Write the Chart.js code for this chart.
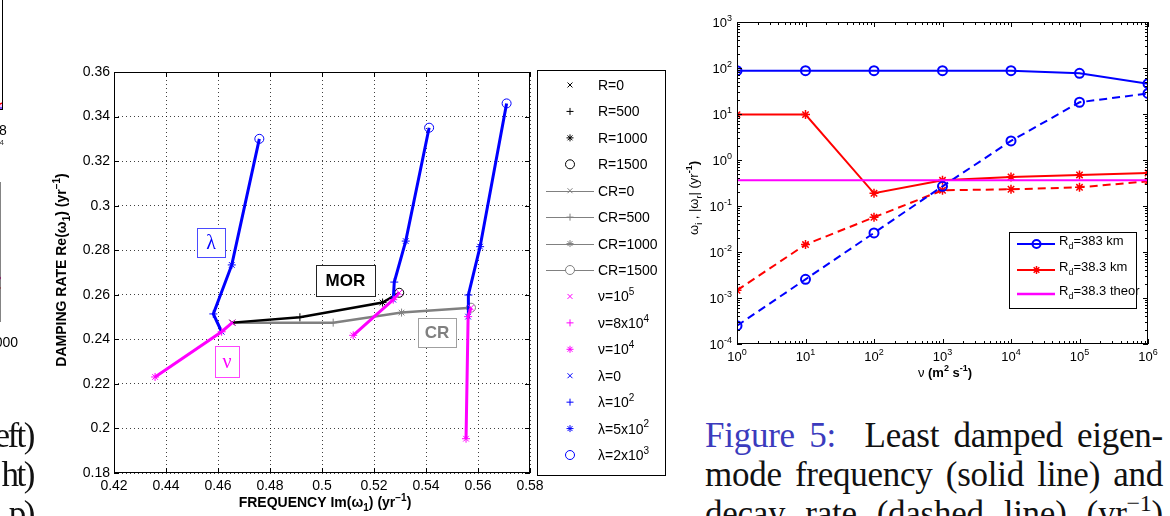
<!DOCTYPE html>
<html>
<head>
<meta charset="utf-8">
<script src="https://cdn.jsdelivr.net/npm/chart.js@4.4.1/dist/chart.umd.min.js"></script>
<style>
  html, body { margin: 0; padding: 0; background: #fff; }
  body { width: 1170px; height: 516px; overflow: hidden; position: relative; }
  canvas { position: absolute; }
  .txt { position: absolute; font-family: "Liberation Serif", serif; font-size: 35px; line-height: 39px; color: #111; }
  .ln { white-space: nowrap; text-align: justify; text-align-last: justify; letter-spacing: -0.25px; }
  .sp { font-size: 24px; position: relative; top: -14px; line-height: 0; }
</style>
</head>
<body>
<canvas id="fragTop" width="223" height="210" style="left:-200px;top:-60px"></canvas>
<canvas id="fragBot" width="223" height="190" style="left:-200px;top:172px"></canvas>
<canvas id="left" width="680" height="516" style="left:0;top:0"></canvas>
<canvas id="right" width="490" height="400" style="left:680px;top:0"></canvas>

<div class="txt" style="left:-200px;top:416px;width:233px;text-align:right;letter-spacing:-2.5px">
  <div>eft)</div><div>ht)</div><div>p)</div>
</div>
<div class="txt" style="left:705px;top:416px;width:458px">
  <div class="ln"><span style="color:#3b3bbd">Figure 5:</span>&nbsp; Least damped eigen-</div>
  <div class="ln">mode frequency (solid line) and</div>
  <div class="ln">decay rate (dashed line) (yr<span class="sp">−1</span>)</div>
</div>

<script>
// ----------------------
// Left chart data: frequency (x) vs damping rate (y)
// ----------------------
const freqTicks = [0.42, 0.44, 0.46, 0.48, 0.50, 0.52, 0.54, 0.56, 0.58];
const freqLabels = ["0.42", "0.44", "0.46", "0.48", "0.5", "0.52", "0.54", "0.56", "0.58"];
const rateTicks = [0.18, 0.20, 0.22, 0.24, 0.26, 0.28, 0.30, 0.32, 0.34, 0.36];
const rateLabels = ["0.18", "0.2", "0.22", "0.24", "0.26", "0.28", "0.3", "0.32", "0.34", "0.36"];

// R sweep (MOR) and CR sweep
const morFreq = [0.4655, 0.4915, 0.5233, 0.5297];
const morRate = [0.2475, 0.2499, 0.2565, 0.2609];
const crFreq = [0.4655, 0.5043, 0.5306, 0.5573];
const crRate = [0.2475, 0.2475, 0.2520, 0.2542];
// nu sweeps (10^4, 8x10^4, 10^5)
const nu1Freq = [0.4358, 0.4614, 0.4655];
const nu1Rate = [0.2231, 0.2434, 0.2475];
const nu2Freq = [0.5120, 0.5274, 0.5297];
const nu2Rate = [0.2418, 0.2578, 0.2609];
const nu3Freq = [0.5554, 0.5562, 0.5573];
const nu3Rate = [0.1954, 0.2502, 0.2542];
// lambda sweeps (0, 10^2, 5x10^2, 2x10^3)
const lam1Freq = [0.4614, 0.4582, 0.4653, 0.4759];
const lam1Rate = [0.2434, 0.2514, 0.2734, 0.3300];
const lam2Freq = [0.5274, 0.5278, 0.5322, 0.5412];
const lam2Rate = [0.2578, 0.2657, 0.2841, 0.3350];
const lam3Freq = [0.5562, 0.5563, 0.5608, 0.5710];
const lam3Rate = [0.2502, 0.2599, 0.2816, 0.3459];

const sweepMarks = ["crossRot", "cross", "star", "circle"];
const nuMarks = ["star", "cross", "crossRot"];

// text boxes on the plot
const annoText = ["λ", "ν", "MOR", "CR"];
const annoFreq = [0.4573, 0.4635, 0.5090, 0.5442];
const annoRate = [0.2835, 0.2300, 0.2664, 0.2431];

const legendText = [
  [["R=0"]], [["R=500"]], [["R=1000"]], [["R=1500"]],
  [["CR=0"]], [["CR=500"]], [["CR=1000"]], [["CR=1500"]],
  [["ν=10"], ["5", 1]], [["ν=8x10"], ["4", 1]], [["ν=10"], ["4", 1]],
  [["λ=0"]], [["λ=10"], ["2", 1]], [["λ=5x10"], ["2", 1]], [["λ=2x10"], ["3", 1]]
];
const legendMarks = ["crossRot", "cross", "star", "circle", "crossRot", "cross", "star", "circle",
  "crossRot", "cross", "star", "crossRot", "cross", "star", "circle"];

// ----------------------
// Right chart data: nu (x, log) vs |omega| (y, log)
// ----------------------
const nuValues = [1, 10, 100, 1e3, 1e4, 1e5, 1e6];
const freq383 = [87.5, 87.5, 87.5, 87.5, 87.5, 76.6, 45.7];
const decay383 = [2.5e-4, 2.55e-3, 0.026, 0.268, 2.6, 18, 28];
const freq38 = [9.7, 9.7, 0.189, 0.362, 0.428, 0.473, 0.522];
const decay38 = [1.47e-3, 0.0145, 0.0568, 0.22, 0.231, 0.255, 0.344];
const theor38 = [0.362, 0.362, 0.362, 0.362, 0.362, 0.362, 0.362];
const xExps = [0, 1, 2, 3, 4, 5, 6];
const yExps = [-4, -3, -2, -1, 0, 1, 2, 3];
const rightLegend = [
  [["R"], ["d", -1], ["=383 km"]],
  [["R"], ["d", -1], ["=38.3 km"]],
  [["R"], ["d", -1], ["=38.3 theor"]]
];

// ----------------------
// Cut-off neighbour figure on the left edge
// ----------------------
const fragTopX = [8], fragTopY = [0.0125];
const fragBotX = [2000], fragCircleY = [0.279], fragCrossY = [0.314];

const BLUE = "#0000ff", MAGENTA = "#ff00ff", GRAY = "#808080", RED = "#ff0000";
const SANS = '"Liberation Sans", Arial, sans-serif';
Chart.defaults.font.family = SANS;
Chart.defaults.color = "#000";

// ----------------------
// drawing helpers
// ----------------------
function drawRich(ctx, parts, x, y, size, align, weight) {
  const fontOf = p => `${p[2] || weight || "normal"} ${p[1] ? Math.round(size * 0.7) : size}px ${SANS}`;
  let w = 0;
  parts.forEach(p => { ctx.font = fontOf(p); w += ctx.measureText(p[0]).width; });
  let cx = align === "center" ? x - w / 2 : align === "right" ? x - w : x;
  ctx.textAlign = "left";
  ctx.textBaseline = "alphabetic";
  parts.forEach(p => {
    ctx.font = fontOf(p);
    const dy = p[1] === 1 ? -size * 0.45 : p[1] === -1 ? size * 0.3 : 0;
    ctx.fillText(p[0], cx, y + dy);
    cx += ctx.measureText(p[0]).width;
  });
}

function mark(ctx, style, x, y, r) {
  ctx.beginPath();
  if (style === "circle") ctx.arc(x, y, r, 0, Math.PI * 2);
  if (style === "cross" || style === "star") {
    ctx.moveTo(x - r, y); ctx.lineTo(x + r, y);
    ctx.moveTo(x, y - r); ctx.lineTo(x, y + r);
  }
  if (style === "crossRot" || style === "star") {
    const d = r * 0.7071;
    ctx.moveTo(x - d, y - d); ctx.lineTo(x + d, y + d);
    ctx.moveTo(x - d, y + d); ctx.lineTo(x + d, y - d);
  }
  ctx.stroke();
}

function fixedAxis(size) {
  return s => { if (s.isHorizontal()) s.height = size; else s.width = size; };
}

// ----------------------
// Left chart
// ----------------------
function sweep(xs, ys, color, marks, width, order) {
  return {
    data: xs.map((x, i) => ({ x, y: ys[i] })),
    showLine: true,
    borderColor: color,
    borderWidth: width,
    pointStyle: marks,
    pointRadius: marks.map(m => (m === "circle" ? 4.5 : 4)),
    pointBorderColor: color,
    pointBackgroundColor: "rgba(0,0,0,0)",
    pointBorderWidth: 1,
    order
  };
}

const leftDecor = {
  id: "leftDecor",
  afterDraw(chart) {
    const { ctx, chartArea: a, scales: { x, y } } = chart;
    ctx.save();
    ctx.setLineDash([]);
    ctx.strokeStyle = "#000";
    ctx.lineWidth = 1;
    ctx.strokeRect(a.left + 0.5, a.top + 0.5, a.right - a.left - 1, a.bottom - a.top - 1);
    ctx.beginPath();
    freqTicks.forEach(v => {
      const px = Math.round(x.getPixelForValue(v)) + 0.5;
      ctx.moveTo(px, a.bottom); ctx.lineTo(px, a.bottom - 5);
      ctx.moveTo(px, a.top); ctx.lineTo(px, a.top + 5);
    });
    rateTicks.forEach(v => {
      const py = Math.round(y.getPixelForValue(v)) + 0.5;
      ctx.moveTo(a.left, py); ctx.lineTo(a.left + 5, py);
      ctx.moveTo(a.right, py); ctx.lineTo(a.right - 5, py);
    });
    ctx.stroke();

    // text boxes
    const boxSize = [[28, 29], [24, 31], [59, 31], [38, 29]];
    const boxColor = [BLUE, MAGENTA, "#000", GRAY];
    const boxLine = ["#4a4aff", "#ff44ff", "#222", "#a0a0a0"];
    const boxFont = ['20px "Liberation Serif", serif', '20px "Liberation Serif", serif',
      `bold 17px ${SANS}`, `bold 17px ${SANS}`];
    annoText.forEach((t, i) => {
      const cx = x.getPixelForValue(annoFreq[i]);
      const cy = y.getPixelForValue(annoRate[i]);
      const [w, h] = boxSize[i];
      const bx = Math.round(cx - w / 2) + 0.5, by = Math.round(cy - h / 2) + 0.5;
      ctx.fillStyle = "#fff";
      ctx.fillRect(bx, by, w, h);
      ctx.strokeStyle = boxLine[i];
      ctx.lineWidth = 1;
      ctx.strokeRect(bx, by, w, h);
      ctx.font = boxFont[i];
      ctx.fillStyle = boxColor[i];
      ctx.textAlign = "center";
      ctx.textBaseline = "middle";
      ctx.fillText(t, cx, cy + 1);
    });

    // legend
    const lx = 537.5, ly = 70.5, lw = 128, lh = 405;
    ctx.fillStyle = "#fff";
    ctx.fillRect(lx, ly, lw, lh);
    ctx.strokeStyle = "#000";
    ctx.strokeRect(lx, ly, lw, lh);
    legendText.forEach((parts, i) => {
      const ey = 85 + i * 26.43;
      const color = i < 4 ? "#000" : i < 8 ? GRAY : i < 11 ? MAGENTA : BLUE;
      ctx.strokeStyle = color;
      ctx.lineWidth = 1;
      if (i >= 4 && i < 8) {
        ctx.beginPath();
        ctx.moveTo(546, Math.round(ey) + 0.5); ctx.lineTo(594, Math.round(ey) + 0.5);
        ctx.stroke();
        if (legendMarks[i] === "circle") { ctx.fillStyle = "#fff"; ctx.beginPath(); ctx.arc(570, ey, 4.5, 0, Math.PI * 2); ctx.fill(); }
      }
      mark(ctx, legendMarks[i], 570, ey, legendMarks[i] === "circle" ? 4.5 : 3.5);
      ctx.fillStyle = "#000";
      drawRich(ctx, parts, 598, ey + 5, 14, "left");
    });

    // axis titles
    ctx.fillStyle = "#000";
    drawRich(ctx, [["FREQUENCY Im(ω"], ["1", -1], [") (yr"], ["−1", 1], [")"]], 325, 507, 14, "center", "bold");
    ctx.save();
    ctx.translate(66, 270);
    ctx.rotate(-Math.PI / 2);
    drawRich(ctx, [["DAMPING RATE Re(ω"], ["1", -1], [") (yr"], ["−1", 1], [")"]], 0, 0, 14, "center", "bold");
    ctx.restore();
    ctx.restore();
  }
};

new Chart(document.getElementById("left"), {
  type: "scatter",
  data: {
    datasets: [
      sweep(nu1Freq, nu1Rate, MAGENTA, nuMarks, 3, 1),
      sweep(nu2Freq, nu2Rate, MAGENTA, nuMarks, 3, 2),
      sweep(nu3Freq, nu3Rate, MAGENTA, nuMarks, 3, 3),
      sweep(lam1Freq, lam1Rate, BLUE, sweepMarks, 3, 4),
      sweep(lam2Freq, lam2Rate, BLUE, sweepMarks, 3, 5),
      sweep(lam3Freq, lam3Rate, BLUE, sweepMarks, 3, 6),
      sweep(morFreq, morRate, "#000", sweepMarks, 2.5, 7),
      sweep(crFreq, crRate, GRAY, sweepMarks, 2.5, 8)
    ]
  },
  options: {
    responsive: false,
    animation: false,
    devicePixelRatio: 1,
    events: [],
    layout: { padding: { left: 60, right: 150, top: 72, bottom: 0 } },
    plugins: { legend: { display: false }, tooltip: { enabled: false } },
    scales: {
      x: {
        type: "linear", min: 0.42, max: 0.58,
        afterBuildTicks: s => { s.ticks = freqTicks.map(v => ({ value: v })); },
        afterFit: fixedAxis(43),
        ticks: { callback: (v, i) => freqLabels[i], font: { size: 14 }, color: "#000", padding: 5, maxRotation: 0, autoSkip: false },
        grid: { color: "rgba(0,0,0,0.75)", lineWidth: 1, drawTicks: false },
        border: { display: false, dash: [1, 3] }
      },
      y: {
        type: "linear", min: 0.18, max: 0.36,
        afterBuildTicks: s => { s.ticks = rateTicks.map(v => ({ value: v })); },
        afterFit: fixedAxis(54),
        ticks: { callback: (v, i) => rateLabels[i], font: { size: 14 }, color: "#000", padding: 4, autoSkip: false },
        grid: { color: "rgba(0,0,0,0.75)", lineWidth: 1, drawTicks: false },
        border: { display: false, dash: [1, 3] }
      }
    }
  },
  plugins: [leftDecor]
});

// ----------------------
// Right chart
// ----------------------
function nuLine(ys, color, style, dashed, radius, pw) {
  return {
    data: nuValues.map((x, i) => ({ x, y: ys[i] })),
    showLine: true,
    borderColor: color,
    borderWidth: 2,
    borderDash: dashed ? [8, 5] : [],
    pointStyle: style,
    pointRadius: radius,
    pointBorderColor: color,
    pointBackgroundColor: "rgba(0,0,0,0)",
    pointBorderWidth: pw
  };
}

const rightDecor = {
  id: "rightDecor",
  afterDraw(chart) {
    const { ctx, chartArea: a, scales: { x, y } } = chart;
    ctx.save();
    ctx.setLineDash([]);
    ctx.strokeStyle = "#000";
    ctx.lineWidth = 1;
    ctx.strokeRect(a.left + 0.5, a.top + 0.5, a.right - a.left - 1, a.bottom - a.top - 1);
    ctx.beginPath();
    xExps.forEach((e, k) => {
      for (let m = 1; m <= 9; m++) {
        if (k === xExps.length - 1 && m > 1) break;
        const px = Math.round(x.getPixelForValue(m * 10 ** e)) + 0.5;
        const len = m === 1 ? 5 : 3;
        ctx.moveTo(px, a.bottom); ctx.lineTo(px, a.bottom - len);
        ctx.moveTo(px, a.top); ctx.lineTo(px, a.top + len);
      }
    });
    yExps.forEach((e, k) => {
      for (let m = 1; m <= 9; m++) {
        if (k === yExps.length - 1 && m > 1) break;
        const py = Math.round(y.getPixelForValue(m * 10 ** e)) + 0.5;
        const len = m === 1 ? 5 : 3;
        ctx.moveTo(a.left, py); ctx.lineTo(a.left + len, py);
        ctx.moveTo(a.right, py); ctx.lineTo(a.right - len, py);
      }
    });
    ctx.stroke();

    ctx.fillStyle = "#000";
    xExps.forEach(e => {
      drawRich(ctx, [["10"], [String(e), 1]], x.getPixelForValue(10 ** e), 361, 13, "center");
    });
    yExps.forEach(e => {
      drawRich(ctx, [["10"], [String(e), 1]], a.left - 5, y.getPixelForValue(10 ** e) + 5, 13, "right");
    });

    // legend
    const bx = 329.5, by = 232.5, bw = 127, bh = 76;
    ctx.fillStyle = "#fff";
    ctx.fillRect(bx, by, bw, bh);
    ctx.strokeStyle = "#000";
    ctx.strokeRect(bx, by, bw, bh);
    const rows = [244, 270, 294];
    const colors = [BLUE, RED, MAGENTA];
    rightLegend.forEach((parts, i) => {
      ctx.strokeStyle = colors[i];
      ctx.lineWidth = i === 2 ? 2.5 : 2;
      ctx.beginPath();
      ctx.moveTo(337, rows[i]); ctx.lineTo(375, rows[i]);
      ctx.stroke();
      if (i === 0) mark(ctx, "circle", 356.5, rows[i], 4);
      ctx.lineWidth = 1.5;
      if (i === 1) mark(ctx, "star", 356.5, rows[i], 4);
      ctx.fillStyle = "#000";
      drawRich(ctx, parts, 379, rows[i] + 1, 13, "left");
    });

    // axis titles
    ctx.fillStyle = "#000";
    drawRich(ctx, [["ν ", 0, "normal"], ["(m"], ["2", 1], [" s"], ["-1", 1], [")"]], 265, 377, 13, "center", "bold");
    ctx.save();
    ctx.translate(18, 198);
    ctx.rotate(-Math.PI / 2);
    drawRich(ctx, [["ω", 0, "normal"], ["i", -1, "normal"], [" , |ω", 0, "normal"], ["r", -1, "normal"], ["| (yr", 0, "normal"], ["-1", 1], [")"]], 0, 0, 13, "center", "bold");
    ctx.restore();
    ctx.restore();
  }
};

new Chart(document.getElementById("right"), {
  type: "scatter",
  data: {
    datasets: [
      nuLine(theor38, MAGENTA, "circle", false, 0, 0),
      nuLine(freq383, BLUE, "circle", false, 4.5, 2),
      nuLine(decay383, BLUE, "circle", true, 4.5, 2),
      nuLine(freq38, RED, "star", false, 4.5, 1.5),
      nuLine(decay38, RED, "star", true, 4.5, 1.5)
    ]
  },
  options: {
    responsive: false,
    animation: false,
    devicePixelRatio: 1,
    events: [],
    layout: { padding: { left: 57, right: 22, top: 22, bottom: 56 } },
    plugins: { legend: { display: false }, tooltip: { enabled: false } },
    scales: {
      x: { type: "logarithmic", min: 1, max: 1e6, afterFit: fixedAxis(0), ticks: { display: false }, grid: { display: false }, border: { display: false } },
      y: { type: "logarithmic", min: 1e-4, max: 1e3, afterFit: fixedAxis(0), ticks: { display: false }, grid: { display: false }, border: { display: false } }
    }
  },
  plugins: [rightDecor]
});

// ----------------------
// Neighbour figure fragments
// ----------------------
const frameOnly = {
  id: "frameOnly",
  afterDraw(chart) {
    const { ctx, chartArea: a } = chart;
    ctx.save();
    ctx.strokeStyle = "#000";
    ctx.lineWidth = 1;
    ctx.strokeRect(a.left + 0.5, a.top + 0.5, a.right - a.left - 1, a.bottom - a.top - 1);
    if (chart.canvas.id === "fragTop") {
      ctx.fillStyle = "#333";
      drawRich(ctx, [["x10"], ["4", 1]], a.right + 1, a.bottom + 40, 11, "right");
    }
    ctx.restore();
  }
};

function fragChart(id, xMax, sets) {
  new Chart(document.getElementById(id), {
    type: "scatter",
    data: { datasets: sets },
    options: {
      responsive: false, animation: false, devicePixelRatio: 1, events: [],
      layout: { padding: { left: 0, right: 20, top: 10, bottom: 0 } },
      plugins: { legend: { display: false }, tooltip: { enabled: false } },
      scales: {
        x: {
          type: "linear", min: 0, max: xMax,
          afterBuildTicks: s => { s.ticks = [{ value: xMax }]; },
          afterFit: fixedAxis(40),
          ticks: { font: { size: 14 }, color: "#000", padding: 5, maxRotation: 0 },
          grid: { display: false }, border: { display: false }
        },
        y: { type: "linear", min: 0, max: 1, afterFit: fixedAxis(0), ticks: { display: false }, grid: { display: false }, border: { display: false } }
      }
    },
    plugins: [frameOnly]
  });
}

fragChart("fragTop", 8, [
  { data: fragTopX.map((x, i) => ({ x, y: fragTopY[i] })), pointStyle: "cross", pointRadius: 4, pointBorderColor: BLUE, pointBorderWidth: 1 },
  { data: fragTopX.map((x, i) => ({ x, y: fragTopY[i] })), pointStyle: "circle", pointRadius: 5, pointBorderColor: RED, pointBackgroundColor: "rgba(255,0,255,0.25)", pointBorderWidth: 1.5 }
]);
fragChart("fragBot", 2000, [
  { data: fragBotX.map((x, i) => ({ x, y: fragCrossY[i] })), pointStyle: "crossRot", pointRadius: 4, pointBorderColor: MAGENTA, pointBorderWidth: 1.5 },
  { data: fragBotX.map((x, i) => ({ x, y: fragCircleY[i] })), pointStyle: "circle", pointRadius: 5, pointBorderColor: RED, pointBackgroundColor: "rgba(0,0,0,0)", pointBorderWidth: 1.5 }
]);
</script>
</body>
</html>
